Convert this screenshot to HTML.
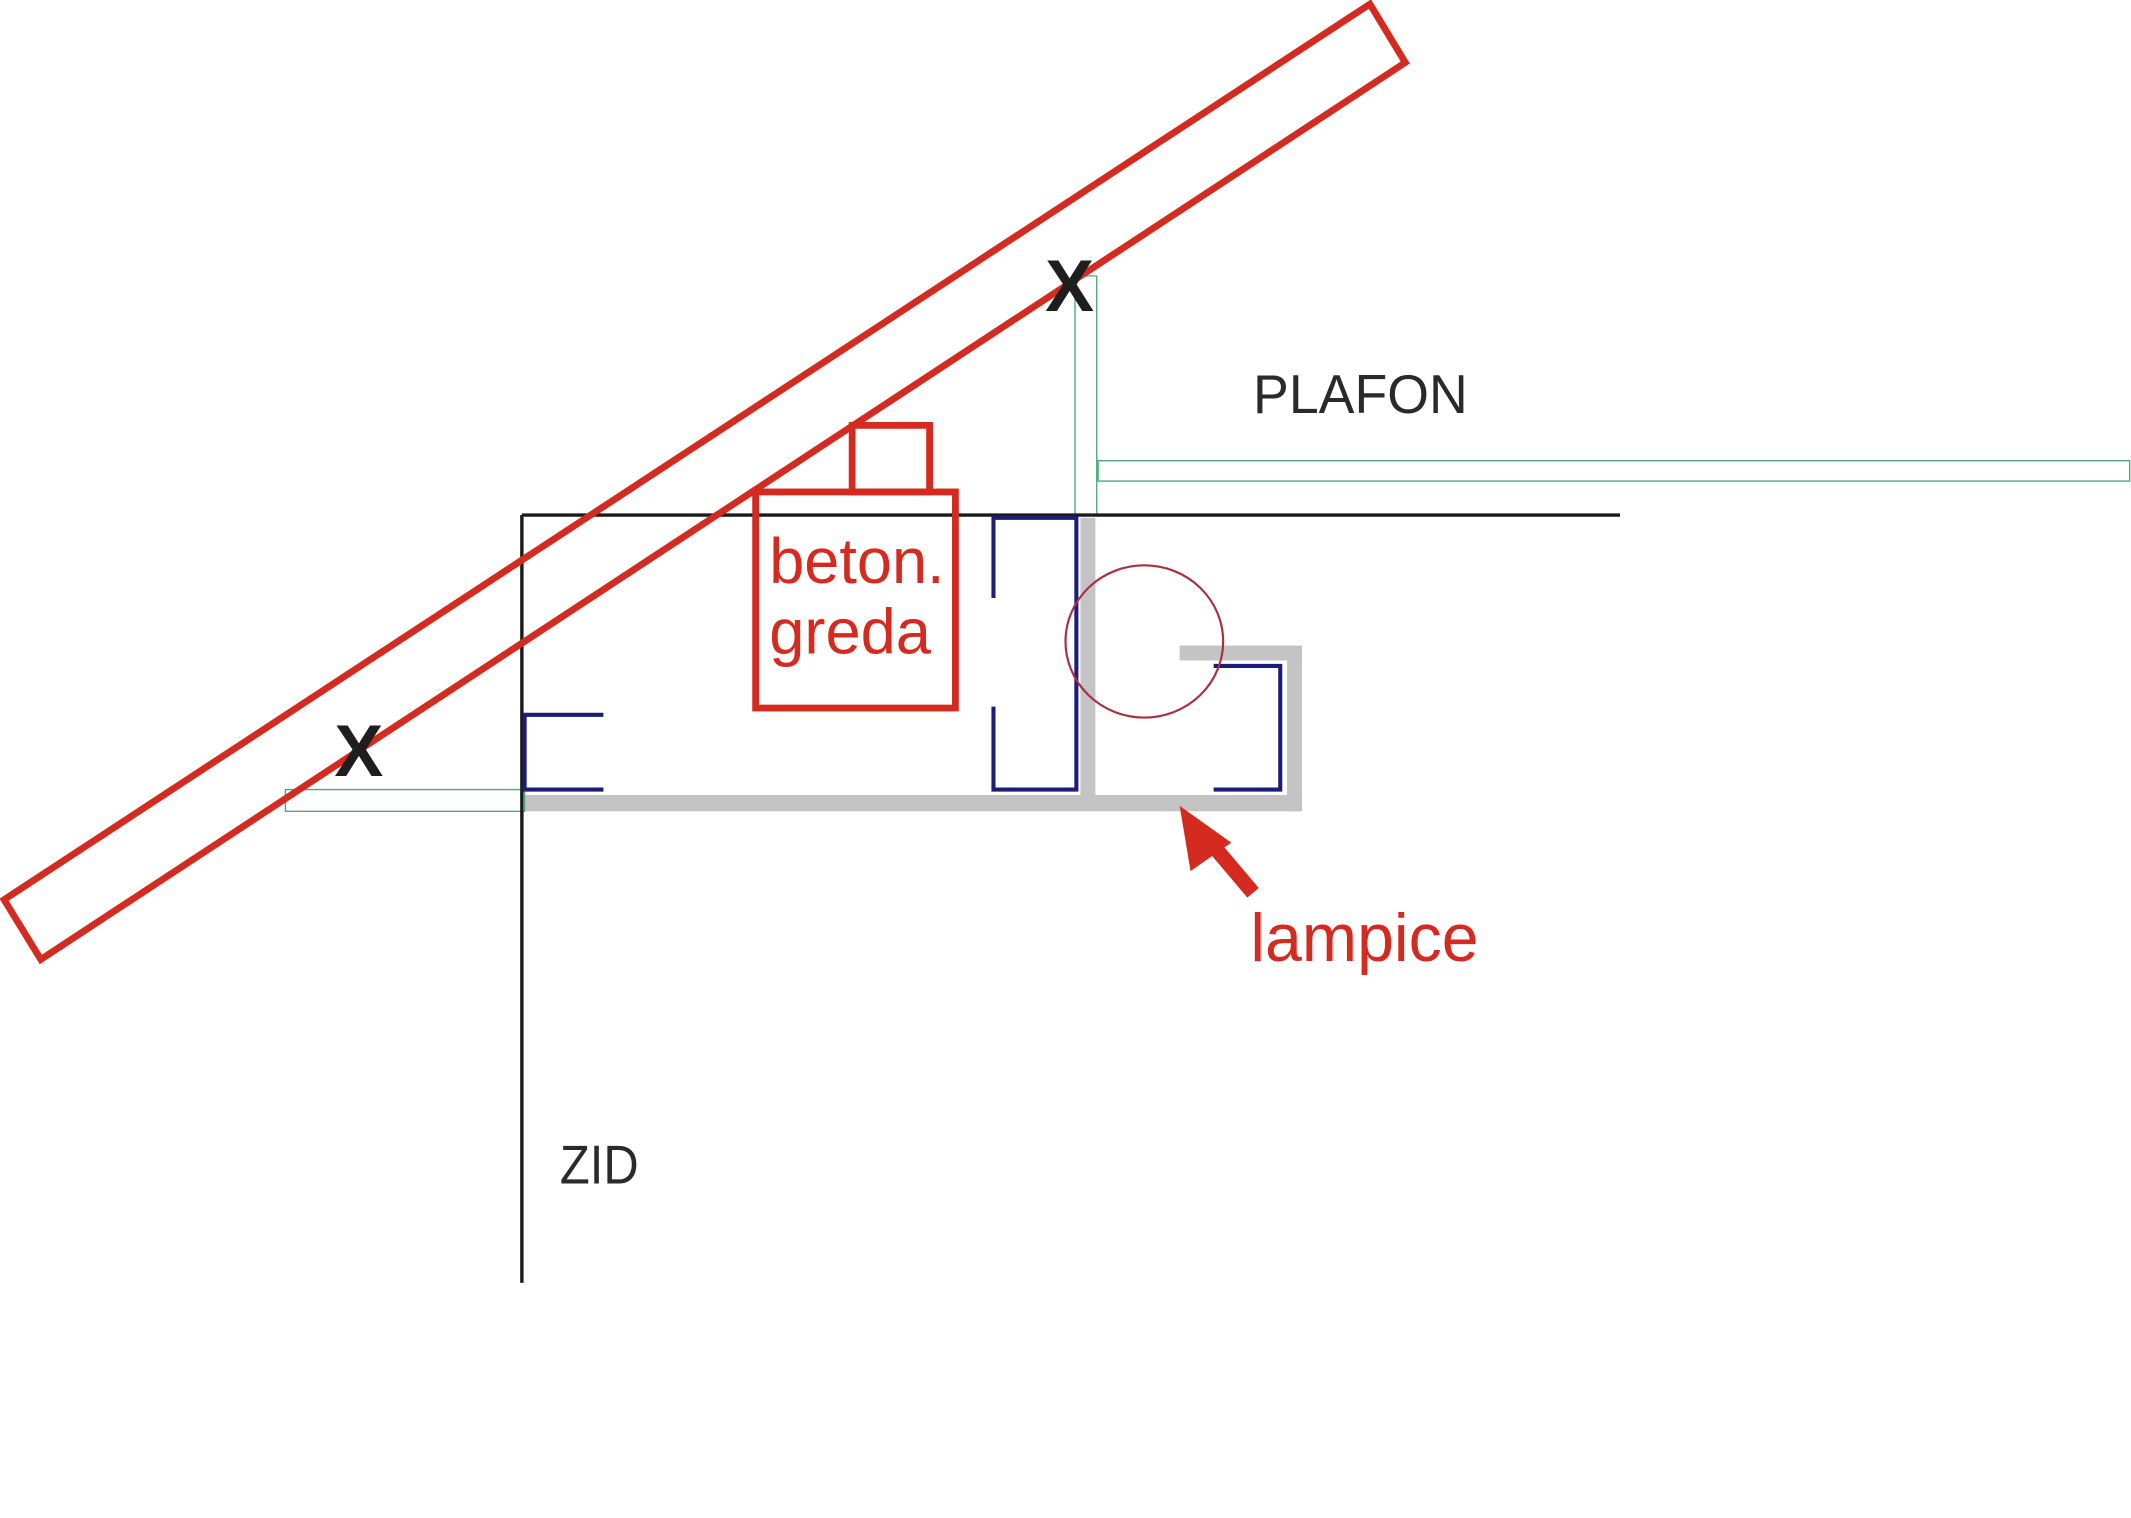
<!DOCTYPE html>
<html><head><meta charset="utf-8"><style>html,body{margin:0;padding:0;background:#fff;}svg{display:block}</style></head>
<body>
<svg width="2131" height="1518" viewBox="0 0 1568 1117" preserveAspectRatio="none" xmlns="http://www.w3.org/2000/svg">
<rect width="1568" height="1117" fill="#fff"/>
<g fill="#c4c4c4">
<rect x="386" y="585" width="572" height="12"/>
<rect x="795" y="381" width="11" height="210"/>
<rect x="947" y="475" width="11" height="122"/>
<rect x="868" y="475" width="90" height="11"/>
</g>
<g fill="none" stroke="#4aa77a" stroke-width="1">
<line x1="791" y1="203" x2="791" y2="379"/>
<line x1="807" y1="203" x2="807" y2="379"/>
<line x1="791" y1="203" x2="807" y2="203"/>
<rect x="808" y="339" width="759" height="15"/>
<rect x="210" y="581" width="176" height="16"/>
</g>
<g stroke="#1a1a1a" stroke-width="2.5" fill="none">
<line x1="384" y1="379" x2="1192" y2="379"/>
<line x1="384" y1="379" x2="384" y2="944"/>
</g>
<g stroke="#1c1c7a" stroke-width="3" fill="none">
<polyline points="444,526 386,526 386,581 444,581"/>
<polyline points="731,440 731,381 792,381 792,581 731,581 731,520"/>
<polyline points="893,490 942,490 942,581 893,581"/>
</g>
<ellipse cx="842" cy="472" rx="58" ry="56" fill="none" stroke="#a83040" stroke-width="1.6"/>
<polygon points="3,662 1008,3 1034,46 30,706" fill="none" stroke="#d42a20" stroke-width="5"/>
<rect x="556" y="362" width="147" height="159" fill="none" stroke="#d42a20" stroke-width="5"/>
<rect x="627" y="313" width="57" height="49" fill="none" stroke="#d42a20" stroke-width="5"/>
<g font-family="Liberation Sans, sans-serif" fill="#d42a20">
<text x="566" y="429" font-size="47" textLength="129" lengthAdjust="spacingAndGlyphs">beton.</text>
<text x="566" y="481" font-size="47" textLength="119" lengthAdjust="spacingAndGlyphs">greda</text>
<text x="920" y="707" font-size="50" textLength="168" lengthAdjust="spacingAndGlyphs">lampice</text>
</g>
<line x1="922" y1="657" x2="884" y2="612" stroke="#d42a20" stroke-width="11"/>
<polygon points="868,593 906,620 876,641" fill="#d42a20"/>
<g font-family="Liberation Sans, sans-serif" fill="#1e1e1e">
<text x="769" y="229" font-size="54" font-weight="bold">X</text>
<text x="246" y="571" font-size="54" font-weight="bold">X</text>
<text x="922" y="304" font-size="40" fill="#2a2a2a" textLength="158" lengthAdjust="spacingAndGlyphs">PLAFON</text>
<text x="412" y="871" font-size="40" fill="#2a2a2a" textLength="58" lengthAdjust="spacingAndGlyphs">ZID</text>
</g>
</svg>
</body></html>
